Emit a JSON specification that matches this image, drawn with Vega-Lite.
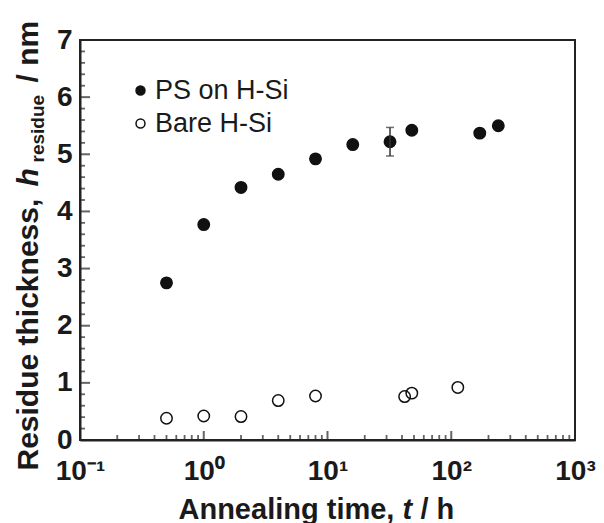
{
  "$schema": "https://vega.github.io/schema/vega-lite/v6.json",
  "width": 495,
  "height": 400,
  "autosize": {"type": "none"},
  "padding": {"left": 80, "top": 40, "right": 29, "bottom": 83},
  "background": "white",
  "config": {
    "view": {"stroke": "#222", "strokeWidth": 2},
    "font": "Liberation Sans",
    "axis": {
      "grid": false, "domain": false, "ticks": false, "labels": false,
      "titleFont": "Liberation Sans", "titleFontWeight": "bold", "titleColor": "#1a1a1a", "titleFontSize": 29,
      "labelFont": "Liberation Sans", "labelColor": "#1a1a1a",
      "domainColor": "#222"
    }
  },
  "datasets": {
    "pts": [
      {"t": 0.5, "h": 2.75, "series": "PS on H-Si"},
      {"t": 1, "h": 3.77, "series": "PS on H-Si"},
      {"t": 2, "h": 4.42, "series": "PS on H-Si"},
      {"t": 4, "h": 4.65, "series": "PS on H-Si"},
      {"t": 8, "h": 4.92, "series": "PS on H-Si"},
      {"t": 16, "h": 5.17, "series": "PS on H-Si"},
      {"t": 32, "h": 5.22, "series": "PS on H-Si"},
      {"t": 48, "h": 5.42, "series": "PS on H-Si"},
      {"t": 170, "h": 5.37, "series": "PS on H-Si"},
      {"t": 240, "h": 5.5, "series": "PS on H-Si"},
      {"t": 0.5, "h": 0.38, "series": "Bare H-Si"},
      {"t": 1, "h": 0.42, "series": "Bare H-Si"},
      {"t": 2, "h": 0.41, "series": "Bare H-Si"},
      {"t": 4, "h": 0.69, "series": "Bare H-Si"},
      {"t": 8, "h": 0.77, "series": "Bare H-Si"},
      {"t": 42, "h": 0.76, "series": "Bare H-Si"},
      {"t": 48, "h": 0.82, "series": "Bare H-Si"},
      {"t": 113, "h": 0.92, "series": "Bare H-Si"}
    ],
    "err": [{"t": 32, "lo": 4.97, "hi": 5.47}],
    "ymajor": [{"v": 1}, {"v": 2}, {"v": 3}, {"v": 4}, {"v": 5}, {"v": 6}],
    "yminor": [
      {"v": 0.2}, {"v": 0.4}, {"v": 0.6}, {"v": 0.8}, {"v": 1.2}, {"v": 1.4}, {"v": 1.6}, {"v": 1.8},
      {"v": 2.2}, {"v": 2.4}, {"v": 2.6}, {"v": 2.8}, {"v": 3.2}, {"v": 3.4}, {"v": 3.6}, {"v": 3.8},
      {"v": 4.2}, {"v": 4.4}, {"v": 4.6}, {"v": 4.8}, {"v": 5.2}, {"v": 5.4}, {"v": 5.6}, {"v": 5.8},
      {"v": 6.2}, {"v": 6.4}, {"v": 6.6}, {"v": 6.8}
    ],
    "xmajor": [{"v": 1}, {"v": 10}, {"v": 100}],
    "xminor": [
      {"v": 0.2}, {"v": 0.3}, {"v": 0.4}, {"v": 0.5}, {"v": 0.6}, {"v": 0.7}, {"v": 0.8}, {"v": 0.9},
      {"v": 2}, {"v": 3}, {"v": 4}, {"v": 5}, {"v": 6}, {"v": 7}, {"v": 8}, {"v": 9},
      {"v": 20}, {"v": 30}, {"v": 40}, {"v": 50}, {"v": 60}, {"v": 70}, {"v": 80}, {"v": 90},
      {"v": 200}, {"v": 300}, {"v": 400}, {"v": 500}, {"v": 600}, {"v": 700}, {"v": 800}, {"v": 900}
    ]
  },
  "resolve": {"axis": {"x": "independent", "y": "independent"}},
  "layer": [
    {
      "data": {"name": "pts"},
      "mark": {"type": "point", "shape": "circle", "filled": true, "size": 130, "stroke": "#111", "strokeWidth": 1.5, "opacity": 1},
      "encoding": {
        "x": {
          "field": "t", "type": "quantitative",
          "scale": {"type": "log", "domain": [0.1, 1000], "nice": false},
          "axis": {
            "orient": "bottom", "ticks": false,
            "title": "Annealing time,", "values": [0.1, 1, 10, 100, 1000],
            "labels": true,
            "labelExpr": "datum.value < 0.5 ? '10⁻¹' : datum.value < 5 ? '10⁰' : datum.value < 50 ? '10¹' : datum.value < 500 ? '10²' : '10³'",
            "labelFontSize": 28, "labelFontWeight": "bold", "labelPadding": 17,
            "labelFlush": false, "labelOverlap": false, "labelBound": false,
            "domain": true, "domainWidth": 2,
            "titleX": 98, "titleY": 78, "titleAlign": "left", "titleBaseline": "alphabetic"
          }
        },
        "y": {
          "field": "h", "type": "quantitative",
          "scale": {"domain": [0, 7], "nice": false, "zero": false},
          "axis": {
            "orient": "left", "ticks": false,
            "title": "Residue thickness,", "values": [0, 1, 2, 3, 4, 5, 6, 7],
            "labels": true, "labelFontSize": 28, "labelFontWeight": "bold", "labelPadding": 8,
            "domain": true, "domainWidth": 2,
            "titleFontSize": 30,
            "titleAngle": 270, "titleX": -43, "titleY": 430, "titleAlign": "left", "titleBaseline": "alphabetic"
          }
        },
        "fill": {
          "field": "series", "type": "nominal",
          "scale": {"domain": ["PS on H-Si", "Bare H-Si"], "range": ["#111", "transparent"]},
          "legend": {
            "title": null, "orient": "none", "legendX": 47, "legendY": 37,
            "labelFontSize": 27, "labelFont": "Liberation Sans", "labelColor": "#1a1a1a",
            "symbolSize": 80, "symbolType": "circle", "symbolStrokeColor": "#111", "symbolStrokeWidth": 1.5,
            "rowPadding": 5, "labelOffset": 1, "padding": 0
          }
        }
      }
    },
    {
      "data": {"name": "err"},
      "mark": {"type": "rule", "color": "#333", "strokeWidth": 1.5},
      "encoding": {
        "x": {
          "field": "t", "type": "quantitative",
          "scale": {"type": "log", "domain": [0.1, 1000], "nice": false},
          "axis": {
            "orient": "bottom",
            "title": "t", "titleFontStyle": "italic",
            "titleX": 322, "titleY": 78, "titleAlign": "left", "titleBaseline": "alphabetic"
          }
        },
        "y": {
          "field": "lo", "type": "quantitative",
          "scale": {"domain": [0, 7], "nice": false, "zero": false},
          "axis": {
            "orient": "left",
            "title": "h", "titleFontStyle": "italic", "titleFontSize": 30,
            "titleAngle": 270, "titleX": -43, "titleY": 146, "titleAlign": "left", "titleBaseline": "alphabetic"
          }
        },
        "y2": {"field": "hi"}
      }
    },
    {
      "data": {"name": "err"},
      "mark": {"type": "tick", "orient": "horizontal", "color": "#333", "size": 8, "thickness": 1.5},
      "encoding": {
        "x": {
          "field": "t", "type": "quantitative",
          "scale": {"type": "log", "domain": [0.1, 1000], "nice": false},
          "axis": {
            "orient": "bottom",
            "title": "/ h",
            "titleX": 340, "titleY": 78, "titleAlign": "left", "titleBaseline": "alphabetic"
          }
        },
        "y": {
          "field": "lo", "type": "quantitative",
          "scale": {"domain": [0, 7], "nice": false, "zero": false},
          "axis": {
            "orient": "left",
            "title": "residue", "titleFontSize": 19,
            "titleAngle": 270, "titleX": -37, "titleY": 122, "titleAlign": "left", "titleBaseline": "alphabetic"
          }
        }
      }
    },
    {
      "data": {"name": "err"},
      "mark": {"type": "tick", "orient": "horizontal", "color": "#333", "size": 8, "thickness": 1.5},
      "encoding": {
        "x": {
          "field": "t", "type": "quantitative",
          "scale": {"type": "log", "domain": [0.1, 1000], "nice": false},
          "axis": null
        },
        "y": {
          "field": "hi", "type": "quantitative",
          "scale": {"domain": [0, 7], "nice": false, "zero": false},
          "axis": {
            "orient": "left",
            "title": "/ nm", "titleFontSize": 30,
            "titleAngle": 270, "titleX": -43, "titleY": 42, "titleAlign": "left", "titleBaseline": "alphabetic"
          }
        }
      }
    },
    {
      "data": {"name": "ymajor"},
      "mark": {"type": "tick", "orient": "horizontal", "color": "#222", "size": 10, "thickness": 2, "xOffset": 5},
      "encoding": {
        "x": {"datum": 0.1, "type": "quantitative", "scale": {"type": "log", "domain": [0.1, 1000], "nice": false}, "axis": null},
        "y": {"field": "v", "type": "quantitative", "scale": {"domain": [0, 7], "nice": false, "zero": false}, "axis": null}
      }
    },
    {
      "data": {"name": "yminor"},
      "mark": {"type": "tick", "orient": "horizontal", "color": "#222", "size": 5, "thickness": 1.8, "xOffset": 2.5},
      "encoding": {
        "x": {"datum": 0.1, "type": "quantitative", "scale": {"type": "log", "domain": [0.1, 1000], "nice": false}, "axis": null},
        "y": {"field": "v", "type": "quantitative", "scale": {"domain": [0, 7], "nice": false, "zero": false}, "axis": null}
      }
    },
    {
      "data": {"name": "xmajor"},
      "mark": {"type": "tick", "orient": "vertical", "color": "#222", "size": 9, "thickness": 2, "yOffset": -4.5},
      "encoding": {
        "x": {"field": "v", "type": "quantitative", "scale": {"type": "log", "domain": [0.1, 1000], "nice": false}, "axis": null},
        "y": {"datum": 0, "type": "quantitative", "scale": {"domain": [0, 7], "nice": false, "zero": false}, "axis": null}
      }
    },
    {
      "data": {"name": "xminor"},
      "mark": {"type": "tick", "orient": "vertical", "color": "#222", "size": 5, "thickness": 1.8, "yOffset": -2.5},
      "encoding": {
        "x": {"field": "v", "type": "quantitative", "scale": {"type": "log", "domain": [0.1, 1000], "nice": false}, "axis": null},
        "y": {"datum": 0, "type": "quantitative", "scale": {"domain": [0, 7], "nice": false, "zero": false}, "axis": null}
      }
    }
  ]
}
